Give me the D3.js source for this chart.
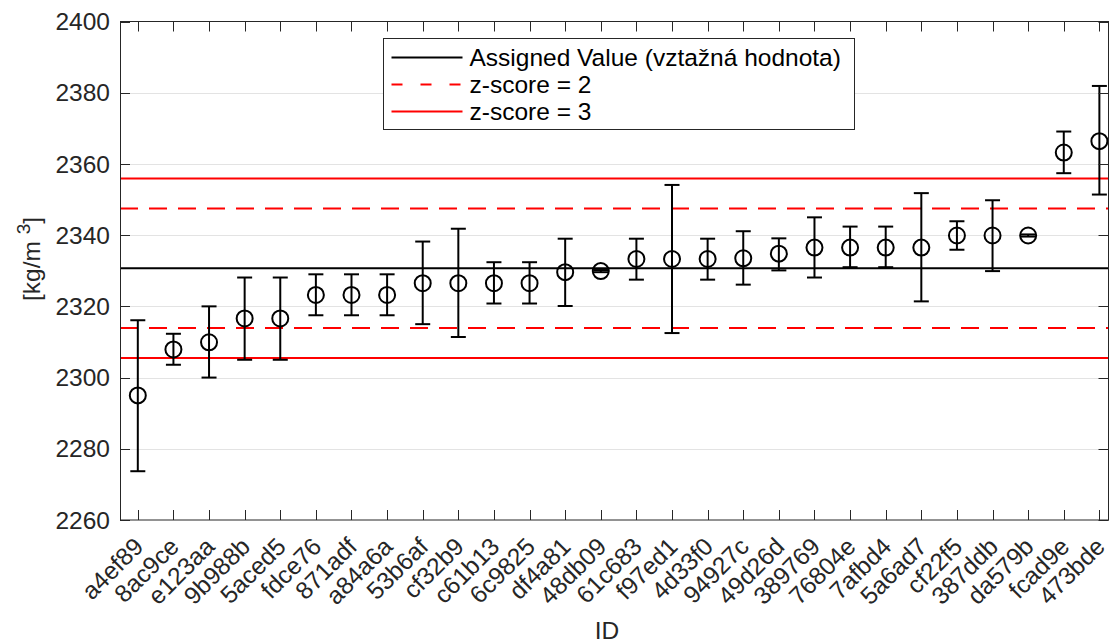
<!DOCTYPE html>
<html>
<head>
<meta charset="utf-8">
<script src="https://cdn.jsdelivr.net/npm/d3@7"></script>
<style>
  body { margin: 0; background: #fff; }
  svg { font-family: "Liberation Sans", Arial, sans-serif; }
</style>
</head>
<body>
<svg width="1109" height="644"></svg>
<script>
// participant ids, measured values and error bar limits [kg/m3]
var ids = ["a4ef89", "8ac9ce", "e123aa", "9b988b", "5aced5", "fdce76", "871adf", "a84a6a",
  "53b6af", "cf32b9", "c61b13", "6c9825", "df4a81", "48db09", "61c683", "f97ed1", "4d33f0",
  "94927c", "49d26d", "389769", "76804e", "7afbd4", "5a6ad7", "cf22f5", "387ddb", "da579b",
  "fcad9e", "473bde"];
var values = [2295.0, 2307.9, 2309.9, 2316.6, 2316.6, 2323.2, 2323.2, 2323.2,
  2326.5, 2326.5, 2326.5, 2326.5, 2329.6, 2329.9, 2333.3, 2333.3, 2333.3,
  2333.5, 2334.8, 2336.5, 2336.5, 2336.5, 2336.5, 2339.9, 2339.9, 2339.9,
  2363.2, 2366.4];
var upper = [2316.1, 2312.3, 2320.0, 2328.1, 2328.1, 2329.0, 2329.0, 2329.0,
  2338.2, 2341.8, 2332.4, 2332.4, 2339.0, 2330.2, 2339.0, 2354.1, 2339.0,
  2341.1, 2339.1, 2345.0, 2342.4, 2342.4, 2351.8, 2343.9, 2349.8, 2340.2,
  2369.1, 2381.9];
var lower = [2273.7, 2303.6, 2300.0, 2305.0, 2305.0, 2317.5, 2317.5, 2317.5,
  2315.0, 2311.4, 2320.8, 2320.8, 2320.1, 2329.6, 2327.5, 2312.5, 2327.5,
  2326.1, 2330.1, 2328.1, 2331.0, 2331.0, 2321.4, 2335.9, 2329.9, 2339.6,
  2357.4, 2351.4];
var assignedValue = 2330.7;
var zLimits = [2, 3];
var sigma = 8.4;
var yTicks = [2260, 2280, 2300, 2320, 2340, 2360, 2380, 2400];
var legendLabels = ["Assigned Value (vztažná hodnota)", "z-score = 2", "z-score = 3"];

var svg = d3.select("svg");
// note: "top" is a window property, so keep plot bounds in their own object
var plot = {left: 120, right: 1108.5, top: 21.5, bottom: 520};

var x = d3.scaleLinear().domain([0.5, 28.27]).range([plot.left, plot.right + 0.5]);
var y = d3.scaleLinear().domain([2260, 2400]).range([plot.bottom, plot.top]);

var axisColor = "#262626";
var fs = 24.5;

// grid lines
svg.append("g").selectAll("line")
  .data(yTicks.slice(1, -1))
  .enter().append("line")
    .attr("x1", plot.left).attr("x2", plot.right)
    .attr("y1", function(d) { return Math.round(y(d)) + 0.5; })
    .attr("y2", function(d) { return Math.round(y(d)) + 0.5; })
    .attr("stroke", "#e3e3e3")
    .attr("stroke-width", 1);

// reference lines: assigned value and z-score limits
var refLines = [{v: assignedValue, color: "#000", dash: null}];
zLimits.forEach(function(z) {
  [-1, 1].forEach(function(s) {
    refLines.push({v: assignedValue + s * z * sigma, color: "#ff0000", dash: z == 2 ? "18,11" : null});
  });
});

svg.append("g").selectAll("line")
  .data(refLines)
  .enter().append("line")
    .attr("x1", plot.left).attr("x2", plot.right)
    .attr("y1", function(d) { return y(d.v); })
    .attr("y2", function(d) { return y(d.v); })
    .attr("stroke", function(d) { return d.color; })
    .attr("stroke-width", 2)
    .attr("stroke-dasharray", function(d) { return d.dash; });

// error bars
var pts = ids.map(function(id, i) {
  return {id: id, i: i + 1, v: values[i], hi: upper[i], lo: lower[i]};
});

var bars = svg.append("g").attr("stroke", "#000").attr("stroke-width", 2).attr("fill", "none");
var capW = 7.5;

var eb = bars.selectAll("g").data(pts).enter().append("g");
eb.append("line")
  .attr("x1", function(d) { return x(d.i); })
  .attr("x2", function(d) { return x(d.i); })
  .attr("y1", function(d) { return y(d.hi); })
  .attr("y2", function(d) { return y(d.lo); });
eb.append("line")
  .attr("x1", function(d) { return x(d.i) - capW; })
  .attr("x2", function(d) { return x(d.i) + capW; })
  .attr("y1", function(d) { return y(d.hi); })
  .attr("y2", function(d) { return y(d.hi); });
eb.append("line")
  .attr("x1", function(d) { return x(d.i) - capW; })
  .attr("x2", function(d) { return x(d.i) + capW; })
  .attr("y1", function(d) { return y(d.lo); })
  .attr("y2", function(d) { return y(d.lo); });
eb.append("circle")
  .attr("cx", function(d) { return x(d.i); })
  .attr("cy", function(d) { return y(d.v); })
  .attr("r", 8);

// axes box
var frame = svg.append("g").attr("stroke", axisColor).attr("stroke-width", 1).attr("fill", "none");
frame.append("rect")
  .attr("x", plot.left + 0.5).attr("y", plot.top)
  .attr("width", plot.right - plot.left - 0.5).attr("height", plot.bottom - plot.top);

var tickLen = 10;
// y ticks, left and right
frame.selectAll(".yt").data(yTicks).enter().append("path")
  .attr("d", function(d) {
    var yy = Math.round(y(d)) + 0.5;
    return "M" + plot.left + "," + yy + "h" + tickLen + "M" + plot.right + "," + yy + "h" + (-tickLen);
  });
// x ticks, bottom and top
frame.selectAll(".xt").data(pts).enter().append("path")
  .attr("d", function(d) {
    var xx = Math.round(x(d.i)) + 0.5;
    return "M" + xx + "," + plot.bottom + "v" + (-tickLen) + "M" + xx + "," + plot.top + "v" + tickLen;
  });

// y tick labels
svg.append("g").selectAll("text")
  .data(yTicks)
  .enter().append("text")
    .attr("x", plot.left - 10)
    .attr("y", function(d) { return y(d); })
    .attr("dy", "0.35em")
    .attr("text-anchor", "end")
    .attr("font-size", fs)
    .attr("fill", axisColor)
    .text(function(d) { return d; });

// x tick labels, rotated, right-middle at the tick
svg.append("g").selectAll("text")
  .data(pts)
  .enter().append("text")
    .attr("transform", function(d) { return "translate(" + (x(d.i) + 1) + "," + (plot.bottom + 22) + ") rotate(-45)"; })
    .attr("text-anchor", "end")
    .attr("dy", "0.35em")
    .attr("font-size", fs)
    .attr("fill", axisColor)
    .text(function(d) { return d.id; });

// axis titles
svg.append("text")
  .attr("x", 607).attr("y", 639)
  .attr("text-anchor", "middle")
  .attr("font-size", fs)
  .attr("fill", axisColor)
  .text("ID");

var yl = svg.append("text")
  .attr("transform", "translate(40,259) rotate(-90)")
  .attr("text-anchor", "middle")
  .attr("font-size", fs)
  .attr("fill", axisColor);
yl.append("tspan").text("[kg/m ");
yl.append("tspan").attr("dy", -10).attr("font-size", 19).text("3");
yl.append("tspan").attr("dy", 10).text("]");

// legend
var lg = svg.append("g").attr("transform", "translate(383.5,38.5)");
lg.append("rect")
  .attr("width", 471).attr("height", 91)
  .attr("fill", "#fff").attr("stroke", "#262626").attr("stroke-width", 1);

var legendStyles = [
  {color: "#000", dash: null},
  {color: "#ff0000", dash: "11,18"},
  {color: "#ff0000", dash: null}
];
var rows = lg.selectAll(".row").data(legendLabels).enter().append("g")
  .attr("transform", function(d, i) { return "translate(0," + (19 + i * 27) + ")"; });
rows.append("line")
  .attr("x1", 8).attr("x2", 79)
  .attr("stroke", function(d, i) { return legendStyles[i].color; })
  .attr("stroke-width", 2)
  .attr("stroke-dasharray", function(d, i) { return legendStyles[i].dash; });
rows.append("text")
  .attr("x", 86)
  .attr("dy", "0.35em")
  .attr("font-size", fs)
  .attr("fill", "#000")
  .text(function(d) { return d; });
</script>
</body>
</html>
